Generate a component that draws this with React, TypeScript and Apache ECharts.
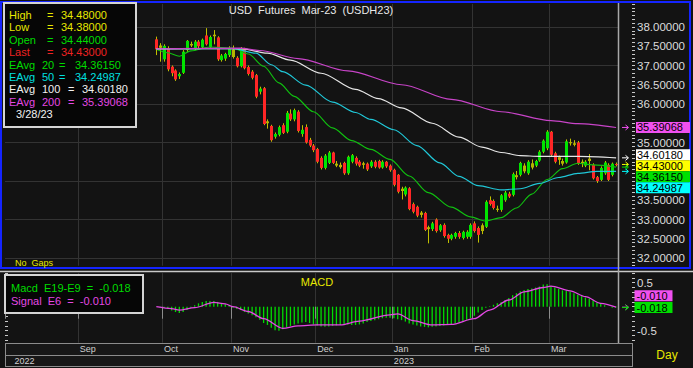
import React, { useEffect, useRef } from "react";
import * as echarts from "echarts";

// ---------------- data ----------------
// daily bars, [open, high, low, close]
const candles: number[][] = [
  [37.68, 37.75, 37.27, 37.42], [37.52, 37.58, 37.1, 37.46], [37.16, 37.55, 37.1, 37.51], [37.45, 37.5, 36.85, 36.9],
  [36.97, 37.0, 36.72, 36.8], [36.87, 36.9, 36.6, 36.64], [36.72, 36.82, 36.65, 36.78], [36.81, 37.4, 36.78, 37.36],
  [37.4, 37.66, 37.35, 37.64], [37.52, 37.62, 37.48, 37.56], [37.42, 37.66, 37.4, 37.62], [37.62, 37.66, 37.45, 37.5],
  [37.47, 37.7, 37.44, 37.67], [37.78, 37.97, 37.52, 37.55], [37.47, 37.78, 37.45, 37.74], [37.8, 37.92, 37.55, 37.76],
  [37.73, 37.76, 37.12, 37.16], [37.14, 37.3, 37.1, 37.26], [37.18, 37.33, 37.12, 37.3], [37.27, 37.5, 37.22, 37.46],
  [37.22, 37.52, 37.18, 37.42], [37.2, 37.24, 36.95, 36.98], [36.98, 37.48, 36.95, 37.45], [37.43, 37.46, 36.9, 36.93],
  [36.96, 37.0, 36.74, 36.78], [36.84, 36.88, 36.64, 36.68], [36.75, 36.78, 36.15, 36.19], [36.32, 36.45, 36.25, 36.4],
  [36.41, 36.44, 35.45, 35.48], [35.55, 35.6, 35.36, 35.5], [35.43, 35.46, 35.02, 35.06], [35.15, 35.26, 35.1, 35.22],
  [35.2, 35.44, 35.16, 35.4], [35.45, 35.5, 35.22, 35.25], [35.28, 35.82, 35.24, 35.77], [35.75, 35.86, 35.56, 35.6],
  [35.6, 35.88, 35.55, 35.84], [35.8, 35.84, 35.26, 35.3], [35.22, 35.45, 35.15, 35.33], [35.4, 35.47, 34.97, 35.0],
  [35.07, 35.12, 34.88, 34.92], [34.92, 34.96, 34.75, 34.8], [34.83, 34.86, 34.46, 34.5], [34.6, 34.64, 34.3, 34.34],
  [34.34, 34.7, 34.3, 34.66], [34.47, 34.78, 34.44, 34.74], [34.74, 34.76, 34.44, 34.47], [34.4, 34.52, 34.36, 34.45],
  [34.36, 34.48, 34.32, 34.42], [34.47, 34.5, 34.16, 34.2], [34.2, 34.66, 34.16, 34.63], [34.5, 34.7, 34.46, 34.67],
  [34.6, 34.64, 34.4, 34.45], [34.5, 34.54, 34.36, 34.4], [34.46, 34.5, 34.32, 34.42], [34.45, 34.48, 34.26, 34.3],
  [34.38, 34.54, 34.34, 34.5], [34.5, 34.54, 34.33, 34.37], [34.52, 34.55, 34.32, 34.35], [34.35, 34.54, 34.32, 34.5],
  [34.5, 34.52, 34.34, 34.38], [34.4, 34.43, 34.24, 34.28], [34.29, 34.32, 33.86, 33.9], [34.16, 34.18, 33.68, 33.72],
  [33.8, 33.85, 33.52, 33.74], [33.65, 33.86, 33.6, 33.83], [33.81, 33.84, 33.24, 33.27], [33.4, 33.44, 33.16, 33.2],
  [33.33, 33.36, 33.06, 33.1], [33.18, 33.22, 33.05, 33.12], [33.17, 33.2, 32.7, 32.73], [32.8, 32.84, 32.38, 32.75],
  [32.75, 32.94, 32.7, 32.9], [33.0, 33.03, 32.66, 32.7], [32.72, 32.88, 32.68, 32.85], [32.86, 32.9, 32.53, 32.57],
  [32.6, 32.63, 32.39, 32.5], [32.5, 32.63, 32.46, 32.6], [32.55, 32.68, 32.5, 32.65], [32.65, 32.7, 32.5, 32.55],
  [32.52, 32.71, 32.48, 32.68], [32.55, 32.72, 32.5, 32.68], [32.55, 32.9, 32.5, 32.86], [32.9, 32.95, 32.66, 32.7],
  [32.78, 32.82, 32.4, 32.6], [32.85, 32.9, 32.62, 32.7], [32.81, 33.5, 32.78, 33.46], [33.5, 33.6, 33.36, 33.4],
  [33.48, 33.52, 33.26, 33.3], [33.25, 33.36, 33.2, 33.28], [33.25, 33.66, 33.2, 33.63], [33.5, 33.74, 33.46, 33.7],
  [33.67, 33.72, 33.56, 33.6], [33.64, 34.22, 33.6, 34.18], [34.1, 34.26, 34.04, 34.15], [34.16, 34.5, 34.12, 34.47],
  [34.25, 34.46, 34.2, 34.4], [34.2, 34.54, 34.16, 34.5], [34.35, 34.56, 34.3, 34.46], [34.4, 34.55, 34.36, 34.52],
  [34.53, 34.8, 34.5, 34.76], [34.76, 35.08, 34.72, 35.05], [34.85, 35.32, 34.8, 35.28], [35.28, 35.3, 34.64, 34.68],
  [34.72, 34.76, 34.46, 34.5], [34.62, 34.66, 34.42, 34.55], [34.45, 34.58, 34.4, 34.52], [34.48, 35.08, 34.45, 35.03],
  [34.98, 35.1, 34.92, 35.01], [34.94, 35.06, 34.9, 34.98], [35.0, 35.04, 34.42, 34.45], [34.5, 34.56, 34.36, 34.46],
  [34.4, 34.54, 34.36, 34.5], [34.58, 34.7, 34.28, 34.52], [34.42, 34.46, 34.04, 34.07], [34.1, 34.13, 33.95, 34.0],
  [34.03, 34.38, 34.0, 34.34], [34.2, 34.52, 34.16, 34.48], [34.42, 34.46, 34.0, 34.03], [34.16, 34.48, 34.12, 34.45],
  [34.44, 34.48, 34.38, 34.43],
];

// exponential averages, sampled as [bar index, value]
const ema20Pts: number[][] = [
  [0, 37.42], [3, 37.33], [6, 37.24], [9, 37.38], [14, 37.48], [20, 37.45], [24, 37.3], [28, 36.98], [32, 36.55],
  [36, 36.2], [41, 35.8], [46, 35.38], [51, 35.05], [56, 34.82], [61, 34.56], [66, 34.13], [71, 33.7], [77, 33.32],
  [82, 33.07], [86, 32.96], [90, 33.05], [94, 33.3], [98, 33.66], [102, 34.04], [106, 34.32], [110, 34.46],
  [114, 34.42], [120, 34.3615],
];
const ema50Pts: number[][] = [
  [0, 37.43], [20, 37.44], [26, 37.32], [30, 37.02], [33, 36.84], [39, 36.49], [46, 36.05], [52, 35.78], [56, 35.6],
  [62, 35.33], [68, 34.92], [74, 34.47], [79, 34.12], [84, 33.88], [90, 33.77], [95, 33.8], [100, 33.94],
  [105, 34.09], [110, 34.2], [115, 34.25], [120, 34.24987],
];
const ema100Pts: number[][] = [
  [0, 37.43], [22, 37.44], [29, 37.32], [35, 37.14], [43, 36.8], [52, 36.38], [58, 36.14], [64, 35.9], [72, 35.5],
  [79, 35.14], [85, 34.88], [90, 34.74], [95, 34.66], [100, 34.64], [110, 34.64], [120, 34.6018],
];
const ema200Pts: number[][] = [
  [0, 37.43], [22, 37.45], [27, 37.39], [37, 37.18], [50, 36.86], [64, 36.5], [77, 36.12], [90, 35.8],
  [103, 35.57], [110, 35.49], [120, 35.39068],
];

// MACD (E19-E9) per bar, and its E6 signal sampled as [bar index, value]
const macdHist: number[] = [
  0.0, -0.01, -0.02, -0.05, -0.08, -0.11, -0.13, -0.11, -0.07, -0.02, 0.03, 0.07, 0.1, 0.12, 0.12, 0.12, 0.1, 0.07,
  0.05, 0.03, -0.02, -0.05, -0.07, -0.11, -0.14, -0.18, -0.22, -0.27, -0.34, -0.38, -0.44, -0.49, -0.5, -0.47, -0.43,
  -0.4, -0.37, -0.35, -0.33, -0.32, -0.34, -0.37, -0.39, -0.41, -0.42, -0.41, -0.4, -0.39, -0.38, -0.38, -0.37, -0.38,
  -0.38, -0.37, -0.35, -0.32, -0.3, -0.28, -0.26, -0.24, -0.23, -0.23, -0.24, -0.26, -0.28, -0.31, -0.35, -0.37, -0.39,
  -0.41, -0.42, -0.43, -0.42, -0.41, -0.4, -0.39, -0.38, -0.36, -0.35, -0.33, -0.3, -0.27, -0.24, -0.19, -0.12, -0.07,
  -0.02, 0.01, 0.04, 0.07, 0.1, 0.14, 0.18, 0.24, 0.28, 0.32, 0.35, 0.37, 0.38, 0.4, 0.42, 0.46, 0.47, 0.43, 0.4, 0.37,
  0.34, 0.33, 0.31, 0.28, 0.25, 0.22, 0.19, 0.17, 0.13, 0.09, 0.06, 0.03, 0.0, -0.02, -0.018,
];
const signalPts: number[][] = [
  [0, 0.0], [4, -0.04], [6, -0.07], [10, -0.02], [15, 0.09], [18, 0.06], [20, 0.0], [24, -0.1], [28, -0.25],
  [33, -0.45], [37, -0.4], [42, -0.38], [48, -0.38], [53, -0.3], [61, -0.17], [63, -0.15], [67, -0.29], [72, -0.38],
  [77, -0.37], [83, -0.25], [87, -0.07], [92, 0.14], [96, 0.31], [101, 0.4], [103, 0.43], [108, 0.33], [112, 0.21],
  [116, 0.07], [120, -0.01],
];

// time axis: bar index at which each month / year starts (negative = before the first bar)
const monthLabels = ["Sep", "Oct", "Nov", "Dec", "Jan", "Feb", "Mar"];
const monthStartBar = [-20, 2, 20, 42, 62, 83, 103];
const yearLabels = ["2022", "2023"];
const yearStartBar = [-37, 62];

// price axis
const priceLabelValues = [38, 37.5, 37, 36.5, 36, 35, 33.5, 33, 32.5, 32];
const priceGridValues = [32, 33, 34, 35, 36, 37, 38];
const macdLabelValues = [0.5, -0.5];

// quote box
const quote = { high: 34.48, low: 34.38, open: 34.44, last: 34.43 };
const emaLast = { e20: 34.3615, e50: 34.24987, e100: 34.6018, e200: 35.39068 };
const macdLast = -0.018;
const signalLast = -0.01;
const quoteDate = "3/28/23";
const title = "USD  Futures  Mar-23  (USDH23)";

// ---------------- layout / style ----------------
const W = 693;
const H = 368;
const LEAD = 39; // empty slots before the first bar
const SLOTS = LEAD + candles.length;
const FONT = '"Liberation Sans", Arial, Helvetica, sans-serif';
const AXIS_FS = 11.5;
const TAG_FS = 10;
const LEGEND_FS = 11;
const C = {
  bg: "#131313",
  grid: "#333333",
  up: "#00e400",
  down: "#ff2626",
  mixed: "#b4b400",
  wick: "#c0c000",
  e20: "#10c010",
  e50: "#20c8d8",
  e100: "#e6e6e6",
  e200: "#c844c8",
  yellow: "#e8e800",
  green: "#00dc00",
  red: "#ee2222",
  cyan: "#00e0e0",
  white: "#f2f2f2",
  magenta: "#e448e4",
  axisText: "#dcdcdc",
  blue: "#1424ff",
};
const PRICE_MIN = 31.8;
const PRICE_MAX = 38.6;
const MACD_MIN = -0.75;
const MACD_MAX = 0.7;

function range(a: number, b: number, step: number): number[] {
  const out: number[] = [];
  const n = Math.round((b - a) / step);
  for (let k = 0; k <= n; k++) out.push(Math.round((a + k * step) * 1000) / 1000);
  return out;
}

const monthSlotLabels: string[] = new Array(SLOTS).fill("");
monthLabels.forEach((m, k) => (monthSlotLabels[monthStartBar[k] + LEAD] = m));
const yearSlotLabels: string[] = new Array(SLOTS).fill("");
yearLabels.forEach((y, k) => (yearSlotLabels[yearStartBar[k] + LEAD] = y));

function colorKey(i: number): number {
  const [o, , , c] = candles[i];
  const prev = i > 0 ? candles[i - 1][3] : Infinity;
  if (c > o && c >= prev) return 1;
  if (c < o && c <= prev) return 0;
  return 2;
}

function toSlots(pts: number[][]) {
  return pts.map(([b, v]) => [b + LEAD, v]);
}

function buildOption(): any {
  const isMonth = (i: number) => monthSlotLabels[i] !== "";
  const bodyColors = [C.down, C.up, C.mixed];
  const emaLine = (pts: number[][], color: string, name: string) => ({
    name,
    type: "line",
    xAxisIndex: 0,
    yAxisIndex: 0,
    data: toSlots(pts),
    showSymbol: false,
    smooth: 0.3,
    smoothMonotone: "x",
    lineStyle: { color, width: 1.15 },
    z: 4,
    silent: true,
  });
  const histData: (number | null)[] = new Array(SLOTS).fill(null);
  macdHist.forEach((v, i) => (histData[i + LEAD] = v));
  return {
    animation: false,
    backgroundColor: C.bg,
    textStyle: { fontFamily: FONT },
    grid: [
      { left: 5, top: 3.9, width: 613, height: 261.8 },
      { left: 5, top: 273.1, width: 613, height: 69.6 },
    ],
    xAxis: [
      {
        type: "category", gridIndex: 0, data: monthSlotLabels, boundaryGap: true,
        axisLine: { show: false }, axisTick: { show: false }, axisLabel: { show: false },
        splitLine: { show: true, interval: (i: number) => isMonth(i), lineStyle: { color: C.grid, width: 1 } },
      },
      {
        type: "category", gridIndex: 1, data: monthSlotLabels, boundaryGap: true, position: "bottom",
        axisLine: { show: false },
        axisTick: { show: true, interval: (i: number) => isMonth(i), length: 12, lineStyle: { color: "#8c8c8c" } },
        axisLabel: {
          show: true, interval: (i: number) => isMonth(i), align: "left", margin: 2,
          color: "#d0d0d0", fontSize: 9, fontFamily: FONT,
        },
        splitLine: { show: true, interval: (i: number) => isMonth(i), lineStyle: { color: C.grid, width: 1 } },
      },
      {
        type: "category", gridIndex: 1, data: yearSlotLabels, boundaryGap: true, position: "bottom", offset: 12,
        axisLine: { show: false },
        axisTick: {
          show: true, length: 12, lineStyle: { color: "#8c8c8c" },
          interval: (i: number) => yearSlotLabels[i] !== "" && i !== yearStartBar[0] + LEAD,
        },
        axisLabel: {
          show: true, interval: (i: number) => yearSlotLabels[i] !== "", align: "left", margin: 2,
          color: "#d0d0d0", fontSize: 9, fontFamily: FONT,
        },
        splitLine: { show: false },
      },
    ],
    yAxis: [
      {
        type: "value", gridIndex: 0, min: PRICE_MIN, max: PRICE_MAX, position: "right",
        axisLine: { show: false }, axisLabel: { show: false },
        axisTick: { show: false, customValues: priceGridValues },
        splitLine: { show: true, lineStyle: { color: C.grid, width: 1 } },
      },
      {
        type: "value", gridIndex: 0, min: PRICE_MIN, max: PRICE_MAX, position: "right", offset: 14,
        axisLine: { show: false },
        axisTick: { show: true, length: 3, customValues: range(PRICE_MIN, PRICE_MAX, 0.1), lineStyle: { color: "#c8c8c8" } },
        axisLabel: {
          show: true, customValues: priceLabelValues, margin: 5, color: C.axisText, fontSize: AXIS_FS, fontFamily: FONT,
          formatter: (v: number) => v.toFixed(5),
        },
        splitLine: { show: false },
      },
      {
        type: "value", gridIndex: 1, min: MACD_MIN, max: MACD_MAX, position: "right", offset: 14,
        axisLine: { show: false },
        axisTick: { show: true, length: 3, customValues: range(-0.7, 0.7, 0.1), lineStyle: { color: "#c8c8c8" } },
        axisLabel: {
          show: true, customValues: macdLabelValues, margin: 5, color: C.axisText, fontSize: AXIS_FS, fontFamily: FONT,
          formatter: (v: number) => String(v),
        },
        splitLine: { show: false },
      },
      {
        type: "value", gridIndex: 1, min: MACD_MIN, max: MACD_MAX, position: "left",
        axisLine: { show: false }, axisLabel: { show: false },
        axisTick: { show: true, inside: true, length: 3, customValues: range(-0.7, 0.7, 0.1), lineStyle: { color: "#c8c8c8" } },
        splitLine: { show: false },
      },
    ],
    series: [
      {
        name: "USDH23",
        type: "custom",
        xAxisIndex: 0,
        yAxisIndex: 0,
        z: 3,
        silent: true,
        data: candles.map((c, i) => [i + LEAD, c[0], c[3], c[2], c[1], colorKey(i)]),
        encode: { x: 0, y: [1, 2, 3, 4] },
        renderItem: (params: any, api: any) => {
          const slot = api.value(0);
          const pO = api.coord([slot, api.value(1)]);
          const pC = api.coord([slot, api.value(2)]);
          const pL = api.coord([slot, api.value(3)]);
          const pH = api.coord([slot, api.value(4)]);
          const xr = Math.round(pO[0]);
          const top = Math.min(pO[1], pC[1]);
          const hgt = Math.max(1, Math.abs(pO[1] - pC[1]));
          const col = bodyColors[api.value(5)];
          return {
            type: "group",
            children: [
              { type: "line", shape: { x1: xr + 0.5, y1: pH[1], x2: xr + 0.5, y2: pL[1] }, style: { stroke: C.wick, lineWidth: 1 } },
              { type: "rect", shape: { x: xr - 1, y: top, width: 3, height: hgt }, style: { fill: col } },
            ],
          };
        },
      },
      emaLine(ema20Pts, C.e20, "EAvg 20"),
      emaLine(ema50Pts, C.e50, "EAvg 50"),
      emaLine(ema100Pts, C.e100, "EAvg 100"),
      emaLine(ema200Pts, C.e200, "EAvg 200"),
      {
        name: "Macd E19-E9",
        type: "bar",
        xAxisIndex: 1,
        yAxisIndex: 2,
        data: histData,
        barWidth: 1.3,
        itemStyle: { color: C.green },
        silent: true,
        z: 2,
      },
      {
        name: "Signal E6",
        type: "line",
        xAxisIndex: 1,
        yAxisIndex: 2,
        data: toSlots(signalPts),
        showSymbol: false,
        smooth: 0.3,
        smoothMonotone: "x",
        lineStyle: { color: C.magenta, width: 1.3 },
        silent: true,
        z: 3,
      },
    ],
  };
}

type Tag = { v: number; y: number; ty?: number; color: string; text: string; anchor?: boolean };

// stack value tags so that they do not overlap each other nor the axis labels
function stackTags(tags: Tag[], h: number, labelYs: number[], labelGap: number): Tag[] {
  const s = [...tags].sort((a, b) => a.y - b.y);
  let a = s.findIndex((t) => t.anchor);
  if (a < 0) a = 0;
  s[a].ty = s[a].y;
  for (let j = a - 1; j >= 0; j--) s[j].ty = Math.min(s[j].y, (s[j + 1].ty as number) - h);
  for (let j = a + 1; j < s.length; j++) s[j].ty = Math.max(s[j].y, (s[j - 1].ty as number) + h);
  for (let j = 0; j < s.length; j++) {
    if (j > 0) s[j].ty = Math.max(s[j].ty as number, (s[j - 1].ty as number) + h);
    labelYs.forEach((ly) => {
      const d = (s[j].ty as number) - ly;
      if (Math.abs(d) < labelGap) s[j].ty = ly + labelGap;
    });
  }
  return s;
}

function txt(text: string, x: number, y: number, fill: string, size = LEGEND_FS, align = "left", z = 60): any {
  return {
    type: "text", x, y, z, silent: true,
    style: { text, fill, fontSize: size, fontFamily: FONT, align, verticalAlign: "middle" },
  };
}

function arrow(x: number, y: number, color: string, z = 55): any[] {
  return [
    { type: "line", z, silent: true, shape: { x1: x, y1: y, x2: x + 6, y2: y }, style: { stroke: color, lineWidth: 1 } },
    { type: "polyline", z, silent: true, shape: { points: [[x + 3.5, y - 2.5], [x + 6.5, y], [x + 3.5, y + 2.5]] }, style: { stroke: color, lineWidth: 1, fill: "none" } },
  ];
}

function buildGraphics(chart: any): any[] {
  const els: any[] = [];
  const yP = (v: number) => chart.convertToPixel({ yAxisIndex: 0 }, v) as number;
  const yM = (v: number) => chart.convertToPixel({ yAxisIndex: 2 }, v) as number;

  // frames
  els.push({ type: "rect", z: 40, silent: true, shape: { x: 1, y: 2, width: 689, height: 266 }, style: { fill: "none", stroke: C.blue, lineWidth: 2 } });
  els.push({ type: "line", z: 40, silent: true, shape: { x1: 0, y1: 271.5, x2: W, y2: 271.5 }, style: { stroke: "#c8c8c8", lineWidth: 1.5 } });
  els.push({ type: "line", z: 40, silent: true, shape: { x1: 618.5, y1: 3, x2: 618.5, y2: 343 }, style: { stroke: "#a8a8a8", lineWidth: 1.5 } });
  // time band
  els.push({ type: "rect", z: 0, silent: true, shape: { x: 5, y: 343, width: 627, height: 24 }, style: { fill: "#171717" } });
  [343.5, 355.5, 366.5].forEach((y) =>
    els.push({ type: "line", z: 41, silent: true, shape: { x1: 5, y1: y, x2: 632, y2: y }, style: { stroke: "#8c8c8c", lineWidth: 1 } })
  );
  [5.5, 632.5].forEach((x) =>
    els.push({ type: "line", z: 41, silent: true, shape: { x1: x, y1: 343, x2: x, y2: 367 }, style: { stroke: "#8c8c8c", lineWidth: 1 } })
  );

  // title & captions
  els.push(txt(title, 311, 10, "#e8e8e8", 11, "center"));
  els.push(txt("No  Gaps", 15, 262.5, C.yellow, 9));
  els.push(txt("MACD", 317, 282, C.yellow, 11, "center"));
  els.push(txt("Day", 667, 355, C.yellow, 12, "center"));

  // quote box
  els.push({ type: "rect", z: 50, silent: true, shape: { x: 4, y: 3, width: 132, height: 124 }, style: { fill: "#060606", stroke: "#d4d4d4", lineWidth: 2 } });
  const rowY = (k: number) => 15 + k * 12.4;
  const simpleRows: [string, number, string][] = [
    ["High", quote.high, C.yellow],
    ["Low", quote.low, C.yellow],
    ["Open", quote.open, C.green],
    ["Last", quote.last, C.red],
  ];
  simpleRows.forEach(([lab, v, col], k) => {
    els.push(txt(lab, 9, rowY(k), col));
    els.push(txt("=", 47, rowY(k), col));
    els.push(txt(v.toFixed(5), 61, rowY(k), col));
  });
  const emaRows: [string, number, string][] = [
    ["20", emaLast.e20, C.green],
    ["50", emaLast.e50, C.cyan],
    ["100", emaLast.e100, C.white],
    ["200", emaLast.e200, C.magenta],
  ];
  emaRows.forEach(([p, v, col], k) => {
    const y = rowY(k + 4);
    const wide = p.length > 2;
    els.push(txt("EAvg", 9, y, col));
    els.push(txt(p, 42, y, col));
    els.push(txt("=", wide ? 68 : 59, y, col));
    els.push(txt(v.toFixed(5), wide ? 82 : 75, y, col));
  });
  els.push(txt(quoteDate, 16, rowY(8), C.white));

  // MACD box
  els.push({ type: "rect", z: 50, silent: true, shape: { x: 5, y: 275, width: 138, height: 38 }, style: { fill: "#060606", stroke: "#d4d4d4", lineWidth: 2 } });
  els.push(txt("Macd  E19-E9  =  " + macdLast.toFixed(3), 11, 288.3, C.green));
  els.push(txt("Signal  E6  =  " + signalLast.toFixed(3), 11, 300.7, C.magenta));

  // price tags
  const labelGap = (AXIS_FS * 1.12) / 2 + (TAG_FS * 1.12) / 2 + 0.3;
  const pTags: Tag[] = [
    { v: emaLast.e200, y: yP(emaLast.e200), color: "#f050f0", text: emaLast.e200.toFixed(5) },
    { v: emaLast.e100, y: yP(emaLast.e100), color: "#ffffff", text: emaLast.e100.toFixed(5) },
    { v: quote.last, y: yP(quote.last), color: "#ffff00", text: quote.last.toFixed(5), anchor: true },
    { v: emaLast.e20, y: yP(emaLast.e20), color: "#00e000", text: emaLast.e20.toFixed(5) },
    { v: emaLast.e50, y: yP(emaLast.e50), color: "#00ffff", text: emaLast.e50.toFixed(5) },
  ];
  const pStack = stackTags(pTags, 11, priceLabelValues.map(yP), labelGap);
  pStack.forEach((t) => {
    els.push(...arrow(622, t.y, t.color));
    els.push({ type: "rect", z: 56, silent: true, shape: { x: 636, y: (t.ty as number) - 5.5, width: 54, height: 11 }, style: { fill: t.color } });
    els.push(txt(t.text, 637, t.ty as number, "#000000", TAG_FS + 1, "left", 57));
  });
  const mTags: Tag[] = [
    { v: signalLast, y: yM(signalLast), color: "#f050f0", text: signalLast.toFixed(3) },
    { v: macdLast, y: yM(macdLast), color: "#00e000", text: macdLast.toFixed(3), anchor: true },
  ];
  const mStack = stackTags(mTags, 11.7, [], 0);
  mStack.forEach((t) => {
    els.push(...arrow(622, t.y, t.color));
    els.push({ type: "rect", z: 56, silent: true, shape: { x: 634.5, y: (t.ty as number) - 5.5, width: 38, height: 11 }, style: { fill: t.color } });
    els.push(txt(t.text, 636.5, t.ty as number, "#000000", TAG_FS + 1, "left", 57));
  });
  return els;
}

export default function App() {
  const ref = useRef<HTMLDivElement>(null);
  useEffect(() => {
    document.body.style.margin = "0";
    const el = ref.current as HTMLDivElement;
    const chart = echarts.init(el, null, { renderer: "svg", width: W, height: H });
    chart.setOption(buildOption());
    chart.setOption({ graphic: { elements: buildGraphics(chart) } });
    return () => chart.dispose();
  }, []);
  return (
    <div
      ref={ref}
      style={{ position: "absolute", left: 0, top: 0, width: W, height: H, background: C.bg }}
    />
  );
}
